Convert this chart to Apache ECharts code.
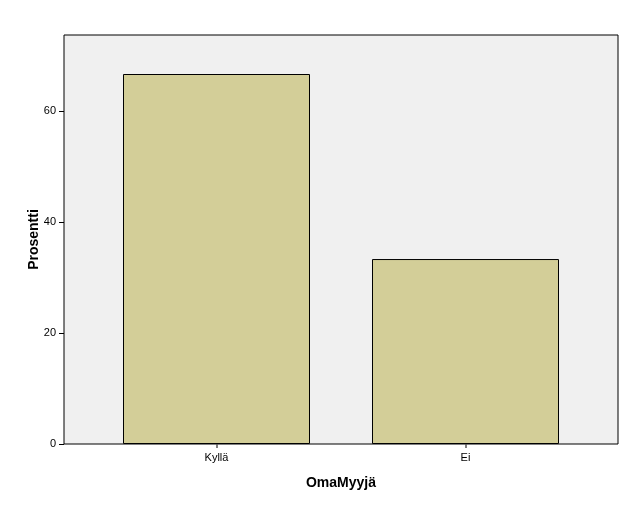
<!DOCTYPE html>
<html>
<head>
<meta charset="utf-8">
<script src="https://cdn.jsdelivr.net/npm/echarts@6/dist/echarts.min.js"></script>
<style>
  html, body { margin: 0; padding: 0; background: #fff; }
  #main { width: 631px; height: 506px; }
</style>
</head>
<body>
<div id="main"></div>
<script>
var categories = ['Kyllä', 'Ei'];
var percentValues = [66.67, 33.33];
var yTickMax = 60;
var yTickStep = 20;

(function () {
  var myChart = echarts.init(document.getElementById('main'));
  var yTop = 73.7; // top edge of plot frame

  var option = {
    animation: false,
    textStyle: { fontFamily: 'Arial, "Liberation Sans", sans-serif' },
    grid: [
      // frame + background
      { left: 64, right: 13, top: 35, bottom: 62, show: true,
        backgroundColor: '#f0f0f0', borderColor: '#000', borderWidth: 1 },
      // bars (narrower so bars sit like the original)
      { left: 92, right: 41, top: 35, bottom: 62 },
      // y ticks 0..60
      { left: 64, right: 13, top: 111, bottom: 62 }
    ],
    xAxis: [
      { gridIndex: 0, type: 'value', show: false, min: 0, max: 1 },
      {
        gridIndex: 1,
        type: 'category',
        data: categories,
        name: 'OmaMyyjä',
        nameLocation: 'middle',
        nameGap: 32,
        nameTextStyle: { fontSize: 14, fontWeight: 'bold', color: '#000' },
        axisLine: { show: false },
        axisTick: { show: true, alignWithLabel: true, length: 4, lineStyle: { color: '#555', width: 1.5 } },
        axisLabel: { fontSize: 11, color: '#000', margin: 8 }
      },
      { gridIndex: 2, type: 'value', show: false, min: 0, max: 1 }
    ],
    yAxis: [
      {
        gridIndex: 0, type: 'value', min: 0, max: yTop,
        name: 'Prosentti',
        nameLocation: 'middle',
        nameGap: 23,
        nameTextStyle: { fontSize: 14, fontWeight: 'bold', color: '#000' },
        axisLine: { show: false }, axisTick: { show: false },
        axisLabel: { show: false }, splitLine: { show: false }
      },
      { gridIndex: 1, type: 'value', show: false, min: 0, max: yTop },
      {
        gridIndex: 2, type: 'value', min: 0, max: yTickMax, interval: yTickStep,
        axisLine: { show: false },
        axisTick: { show: true, length: 5, lineStyle: { color: '#000' } },
        axisLabel: { fontSize: 11, color: '#000', margin: 8 },
        splitLine: { show: false }
      }
    ],
    series: [
      {
        type: 'bar',
        xAxisIndex: 1,
        yAxisIndex: 1,
        data: percentValues,
        barWidth: 187,
        itemStyle: { color: '#d3ce98', borderColor: '#000', borderWidth: 1 }
      }
    ]
  };

  myChart.setOption(option);
  window.addEventListener('resize', function () {
    myChart.resize();
  });
})();
</script>
</body>
</html>
